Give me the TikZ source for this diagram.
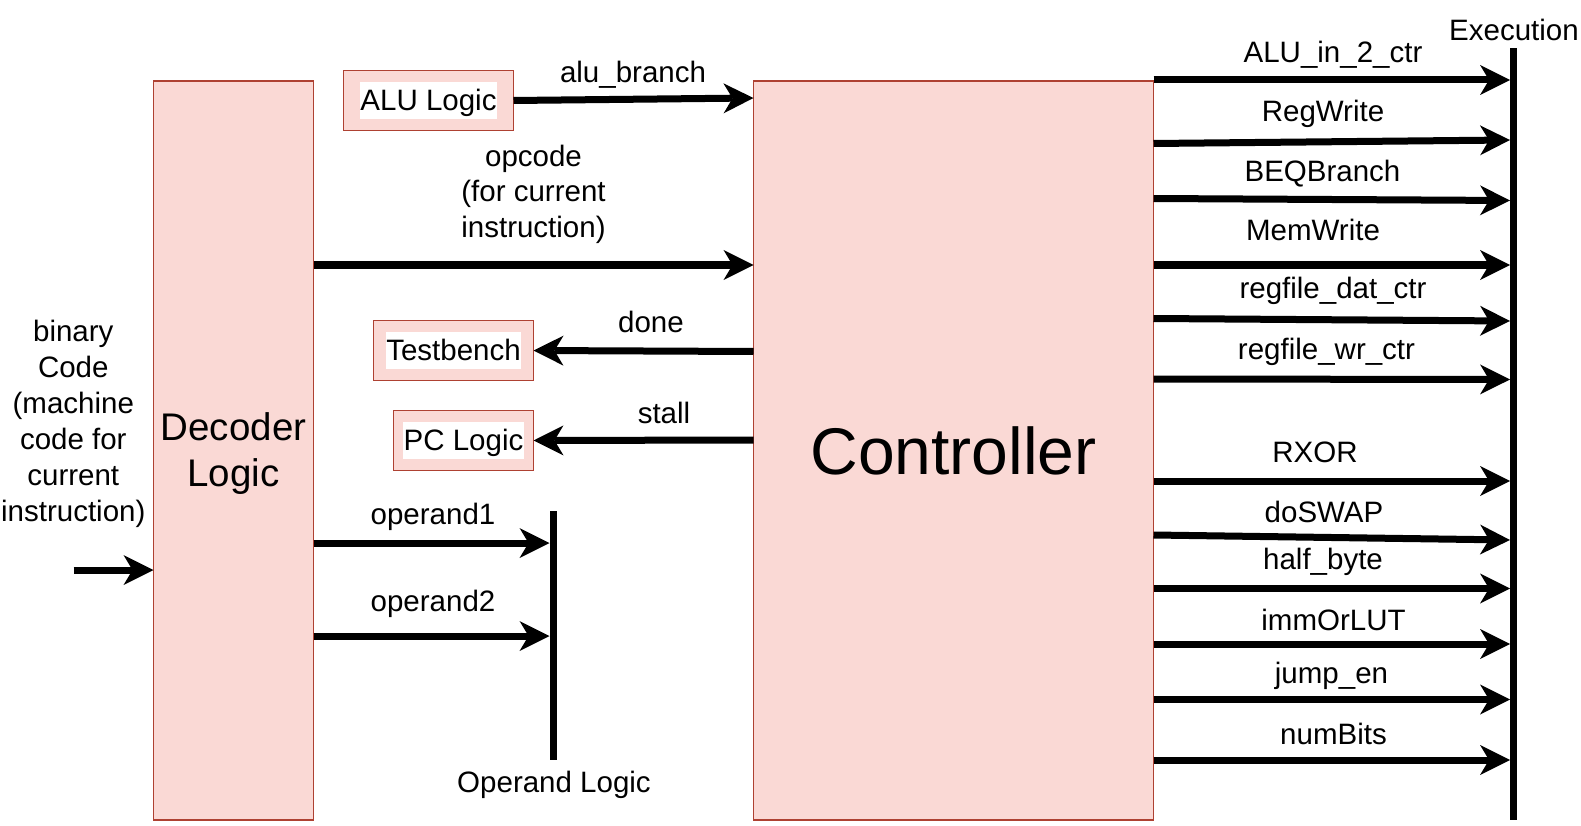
\documentclass[tikz,border=0pt]{standalone}
\usepackage{fontspec}
\setmainfont{Liberation Sans}
\usepackage{xcolor}
\definecolor{boxpink}{RGB}{250,217,213}
\definecolor{boxred}{RGB}{174,65,50}
\usepackage{tikz}
\usetikzlibrary{arrows.meta,positioning}
\newcommand{\lblfont}{\fontsize{29.5}{35.5}\selectfont}
\newcommand{\decfont}{\fontsize{38.5}{46}\selectfont}
\newcommand{\ctrlfont}{\fontsize{66}{79}\selectfont}
\newcommand{\wbox}[1]{{\setlength{\fboxsep}{0.5pt}\colorbox{white}{\rule[-7.5pt]{0pt}{35.5pt}#1}}}

\begin{document}
\begin{tikzpicture}[x=1pt,y=-1pt,font=\lblfont,
  blk/.style={draw=boxred,fill=boxpink,line width=1.2pt,inner sep=0pt,outer sep=0pt,align=center},
  bar/.style={fill=black,inner sep=0pt,outer sep=0pt,minimum width=7pt},
  lbl/.style={inner sep=0pt,align=center},
  sig/.style={-{Stealth[length=30pt,width=30pt,inset=9pt,line width=0pt 0 0]},line width=7pt}]
\fill[white] (0,0) rectangle (1581,826);
% blocks
\node[blk,minimum width=160pt,minimum height=739pt,font=\decfont] (dec) at (233.5,450.5) {\rule{0pt}{34pt}Decoder\\Logic};
\node[blk,minimum width=400pt,minimum height=739pt,font=\ctrlfont] (ctrl) at (953.5,450.5) {Controller};
\node[blk,minimum width=170pt,minimum height=60pt] (alu) at (428.5,100.5) {\wbox{ALU Logic}};
\node[blk,minimum width=160pt,minimum height=60pt] (tb)  at (453.5,350.5) {\wbox{Testbench}};
\node[blk,minimum width=140pt,minimum height=60pt] (pc)  at (463.5,440.5) {\wbox{PC Logic}};
\node[bar,minimum height=249pt] (opnd) at (553,635.5) {};
\node[bar,minimum height=772pt] (exe)  at (1513.5,434) {};
\coordinate (bin) at (73.5,570);
% decoder side
\draw[sig] (bin) -- (dec.west |- bin);
\draw[sig] (alu.east) -- (ctrl.west |- 0,98);
\draw[sig] (dec.east |- 0,265) -- (ctrl.west |- 0,265);
\draw[sig] (ctrl.west |- 0,351.5) -- (tb.east);
\draw[sig] (ctrl.west |- 0,440) -- (pc.east);
\draw[sig] (dec.east |- 0,543) -- (opnd.west |- 0,543);
\draw[sig] (dec.east |- 0,636) -- (opnd.west |- 0,636);
\node[lbl,font=\fontsize{29.5}{36}\selectfont] (lbin) at (73.3,423.5) {binary\\Code\\(machine\\code for\\current\\instruction)};
\node[lbl] (lalub) at (633,75)     {alu\_branch};
\node[lbl] (lopc)  at (533.5,194)  {opcode\\(for current\\instruction)};
\node[lbl] (ldone) at (651,322)    {done};
\node[lbl] (lstl)  at (664,412.5)  {stall};
\node[lbl] (lop1)  at (433,517)    {operand1};
\node[lbl] (lop2)  at (433,604)    {operand2};
\node[lbl] (lopnd) at (554,785)    {Operand Logic};
% controller outputs
\draw[sig] (ctrl.east |- 0,80)    -- (exe.west |- 0,80);
\draw[sig] (ctrl.east |- 0,143.5) -- (exe.west |- 0,140);
\draw[sig] (ctrl.east |- 0,198.5) -- (exe.west |- 0,200.5);
\draw[sig] (ctrl.east |- 0,265)   -- (exe.west |- 0,265);
\draw[sig] (ctrl.east |- 0,318.5) -- (exe.west |- 0,321);
\draw[sig] (ctrl.east |- 0,379)   -- (exe.west |- 0,379.5);
\draw[sig] (ctrl.east |- 0,481)   -- (exe.west |- 0,481);
\draw[sig] (ctrl.east |- 0,535)   -- (exe.west |- 0,540);
\draw[sig] (ctrl.east |- 0,588.5) -- (exe.west |- 0,588.5);
\draw[sig] (ctrl.east |- 0,644)   -- (exe.west |- 0,644);
\draw[sig] (ctrl.east |- 0,699.5) -- (exe.west |- 0,699.5);
\draw[sig] (ctrl.east |- 0,760)   -- (exe.west |- 0,760);
\node[lbl] (lexe)  at (1514,30)    {Execution};
\node[lbl] (laluc) at (1333,55)    {ALU\_in\_2\_ctr};
\node[lbl] (lrw)   at (1323,114)   {RegWrite};
\node[lbl] (lbeq)  at (1322.5,174) {BEQBranch};
\node[lbl] (lmw)   at (1313,230)   {MemWrite};
\node[lbl] (lrfd)  at (1333,291)   {regfile\_dat\_ctr};
\node[lbl] (lrfw)  at (1326.5,352) {regfile\_wr\_ctr};
\node[lbl] (lrx)   at (1315,452.5) {RXOR};
\node[lbl] (lsw)   at (1324,512)   {doSWAP};
\node[lbl] (lhb)   at (1323,562)   {half\_byte};
\node[lbl] (limm)  at (1333.5,620) {immOrLUT};
\node[lbl] (ljmp)  at (1331.5,676) {jump\_en};
\node[lbl] (lnb)   at (1333.5,734) {numBits};
\end{tikzpicture}
\end{document}
